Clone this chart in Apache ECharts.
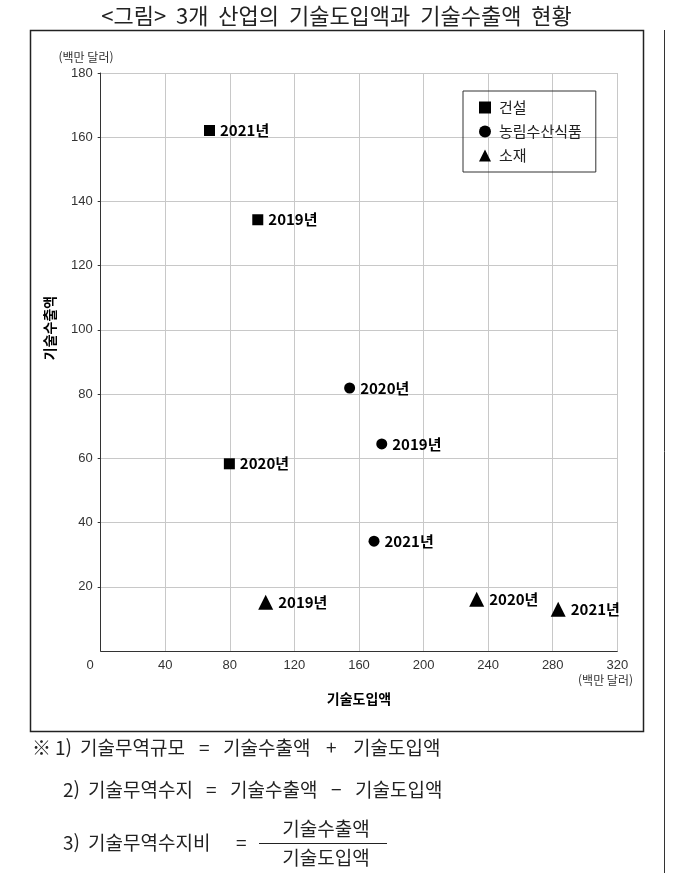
<!DOCTYPE html>
<html lang="ko">
<head>
    <meta charset="UTF-8">
    <title>3개 산업의 기술도입액과 기술수출액 현황</title>
    <script src="https://cdn.jsdelivr.net/npm/echarts@6.0.0/dist/echarts.min.js"></script>
    <style>
        html, body { margin: 0; padding: 0; background: #fff; }
    </style>
</head>
<body>
    <div id="main" style="width: 673px;height:873px;"></div>
    <script type="text/javascript">
        // data (백만 달러)
        const years = ['2019년', '2020년', '2021년'];
        const seriesNames = ['건설', '농림수산식품', '소재'];
        const constructionImport = [97.3, 79.7, 67.4];   // 기술도입액
        const constructionExport = [134.3, 58.3, 162.1]; // 기술수출액
        const agriImport = [174.1, 154.2, 169.3];
        const agriExport = [64.5, 81.9, 34.2];
        const materialImport = [102.2, 232.9, 283.4];
        const materialExport = [15.2, 16.1, 13.0];
        const xTicks = [0, 40, 80, 120, 160, 200, 240, 280, 320];
        const yTicks = [0, 20, 40, 60, 80, 100, 120, 140, 160, 180];

        const sans = "'Noto Sans CJK KR', 'Noto Sans', sans-serif";
        const numFont = "'Liberation Sans', 'Noto Sans CJK KR', sans-serif";

        // zip x / y / year label into scatter points
        function points(xs, ys) {
            return xs.map((x, i) => [x, ys[i], years[i]]);
        }

        function scatter(name, symbol, size, xs, ys) {
            return {
                name: name,
                type: 'scatter',
                symbol: symbol,
                symbolSize: size,
                itemStyle: { color: '#000', opacity: 1 },
                label: {
                    show: true,
                    position: 'right',
                    distance: 5,
                    formatter: (p) => p.data[2],
                    color: '#000',
                    fontSize: 15,
                    fontWeight: 'bold',
                    fontFamily: sans
                },
                emphasis: { disabled: true },
                data: points(xs, ys)
            };
        }

        // footnote line made of pieces placed at fixed x (the original uses wide spacing)
        function noteLine(y, pieces) {
            return pieces.map(([text, x]) => ({
                type: 'text', x: x, y: y,
                style: { text: text, fontSize: 19, fill: '#222', fontFamily: sans, verticalAlign: 'middle' }
            }));
        }

        let myChart = echarts.init(document.getElementById('main'));

        let options = {
            animation: false,
            title: {
                text: '<그림>  3개  산업의  기술도입액과  기술수출액  현황',
                left: 'center',
                top: 0,
                textStyle: { fontSize: 22, fontWeight: 'normal', color: '#222', fontFamily: sans }
            },
            legend: {
                orient: 'vertical',
                left: 463,
                top: 91,
                padding: [9, 14, 9, 16],
                itemGap: 9,
                itemWidth: 12,
                itemHeight: 12,
                borderColor: '#333',
                borderWidth: 1,
                textStyle: { fontSize: 15, color: '#222', fontFamily: sans, padding: [0, 0, 0, 3] },
                data: seriesNames
            },
            grid: {
                left: 100.7,
                right: 55.7,
                top: 73,
                bottom: 222,
                outerBoundsMode: 'none'
            },
            xAxis: {
                type: 'value',
                min: xTicks[0],
                max: xTicks[xTicks.length - 1],
                interval: 40,
                name: '기술도입액',
                nameLocation: 'middle',
                nameGap: 41,
                nameTextStyle: { fontSize: 14, fontWeight: 'bold', color: '#000', fontFamily: sans },
                axisLine: { show: true, lineStyle: { color: '#333', width: 1 } },
                axisTick: { show: false },
                axisLabel: {
                    margin: 8,
                    fontSize: 13,
                    color: '#333',
                    fontFamily: numFont,
                    formatter: (v) => v === 0 ? '{z|0}' : String(v),
                    rich: { z: { padding: [0, 21, 0, 0], fontSize: 13, color: '#333', fontFamily: numFont } }
                },
                splitLine: { show: true, lineStyle: { color: '#c8c8c8', width: 1 } }
            },
            yAxis: {
                type: 'value',
                min: yTicks[0],
                max: yTicks[yTicks.length - 1],
                interval: 20,
                axisLine: { show: true, lineStyle: { color: '#333', width: 1 } },
                axisTick: { show: true, length: 3, lineStyle: { color: '#333' } },
                axisLabel: {
                    margin: 8,
                    fontSize: 13,
                    color: '#333',
                    fontFamily: numFont,
                    showMinLabel: false
                },
                splitLine: { show: true, lineStyle: { color: '#c8c8c8', width: 1 } }
            },
            series: [
                scatter(seriesNames[0], 'rect', 11, constructionImport, constructionExport),
                scatter(seriesNames[1], 'circle', 11, agriImport, agriExport),
                scatter(seriesNames[2], 'triangle', 15, materialImport, materialExport)
            ],
            graphic: [
                // frame round the chart and the page divider on the right
                { type: 'rect', shape: { x: 30.5, y: 30.5, width: 613, height: 701 }, style: { fill: 'none', stroke: '#222', lineWidth: 1.5 } },
                { type: 'line', shape: { x1: 664.5, y1: 30, x2: 664.5, y2: 873 }, style: { stroke: '#333', lineWidth: 1 } },
                // units and y axis name
                { type: 'text', x: 86, y: 57, style: { text: '(백만 달러)', fontSize: 12, fill: '#333', fontFamily: sans, align: 'center', verticalAlign: 'middle' } },
                { type: 'text', x: 633, y: 680, style: { text: '(백만 달러)', fontSize: 12, fill: '#333', fontFamily: sans, align: 'right', verticalAlign: 'middle' } },
                { type: 'text', x: 50, y: 328, rotation: Math.PI / 2, style: { text: '기술수출액', fontSize: 14, fontWeight: 'bold', fill: '#000', fontFamily: sans, align: 'center', verticalAlign: 'middle' } },
                // notes under the chart
                ...noteLine(748, [['※', 32], ['1)', 55], ['기술무역규모', 80], ['=', 199], ['기술수출액', 223], ['+', 326], ['기술도입액', 353]]),
                ...noteLine(790, [['2)', 63], ['기술무역수지', 88], ['=', 206], ['기술수출액', 230], ['−', 331], ['기술도입액', 355]]),
                ...noteLine(843, [['3)', 63], ['기술무역수지비', 88], ['=', 236]]),
                { type: 'text', x: 326, y: 829, style: { text: '기술수출액', fontSize: 19, fill: '#222', fontFamily: sans, align: 'center', verticalAlign: 'middle' } },
                { type: 'line', shape: { x1: 259, y1: 843.5, x2: 387, y2: 843.5 }, style: { stroke: '#222', lineWidth: 1.2 } },
                { type: 'text', x: 326, y: 858, style: { text: '기술도입액', fontSize: 19, fill: '#222', fontFamily: sans, align: 'center', verticalAlign: 'middle' } }
            ]
        };

        myChart.setOption(options);
    </script>
</body>
</html>
